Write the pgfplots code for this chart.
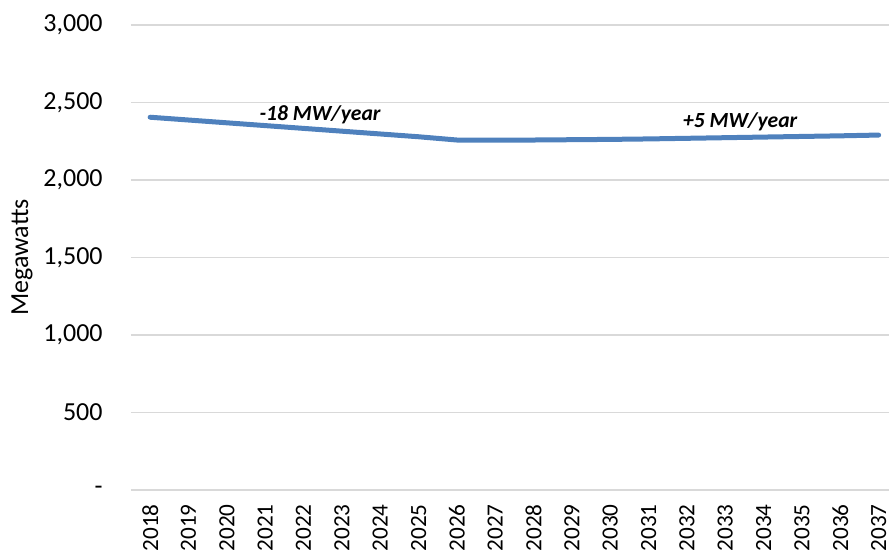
\documentclass[border=0pt]{standalone}
\usepackage{pgfplots}
\pgfplotsset{compat=1.18}
\usepackage{fontspec}
\setmainfont{Carlito}
\definecolor{lineblue}{RGB}{79,129,189}
\definecolor{gridgray}{RGB}{217,217,217}

\pgfplotstableread{
idx value
0  2405
1  2387
2  2369
3  2351
4  2333
5  2315
6  2297
7  2279
8  2258
9  2257
10 2258
11 2260
12 2262
13 2265
14 2269
15 2273
16 2277
17 2281
18 2285
19 2290
}\capacity

\begin{document}
\begin{tikzpicture}
\begin{axis}[
  scale only axis,
  width=379pt, height=232.5pt,
  xmin=-0.5, xmax=19.27,
  ymin=0, ymax=3000,
  axis y line*=left,
  y axis line style={draw=none},
  axis x line*=bottom,
  x axis line style={gridgray, line width=0.8pt, -},
  xtick={0,...,19},
  xticklabels={2018,2019,2020,2021,2022,2023,2024,2025,2026,2027,2028,2029,2030,2031,2032,2033,2034,2035,2036,2037},
  ytick={0,500,...,3000},
  yticklabels={-,500,{1,000},{1,500},{2,000},{2,500},{3,000}},
  major tick length=0pt,
  ymajorgrids,
  grid style={gridgray, line width=0.8pt},
  font=\fontsize{13pt}{15pt}\selectfont,
  xticklabel style={rotate=90, anchor=east, inner sep=0pt, xshift=-7pt, font=\fontsize{11.6pt}{14pt}\selectfont},
  yticklabel style={anchor=east, inner sep=0pt, xshift=-14pt},
  ylabel={Megawatts},
  every axis y label/.style={at={(axis description cs:0,0.5)}, rotate=90, anchor=center, yshift=54.5pt},
  clip=false,
]
\addplot[lineblue, line width=2.5pt, line cap=round, line join=round] table[x=idx, y=value] {\capacity};
\node[font=\fontsize{10.8pt}{13pt}\selectfont\bfseries\itshape] at (axis cs:4.43,2419) {-18 MW/year};
\node[font=\fontsize{10.8pt}{13pt}\selectfont\bfseries\itshape] at (axis cs:15.39,2374) {+5 MW/year};
\end{axis}
\pgfresetboundingbox
\path[use as bounding box] (-65.5pt,-31.5pt) rectangle (379pt,245pt);
\end{tikzpicture}
\end{document}
